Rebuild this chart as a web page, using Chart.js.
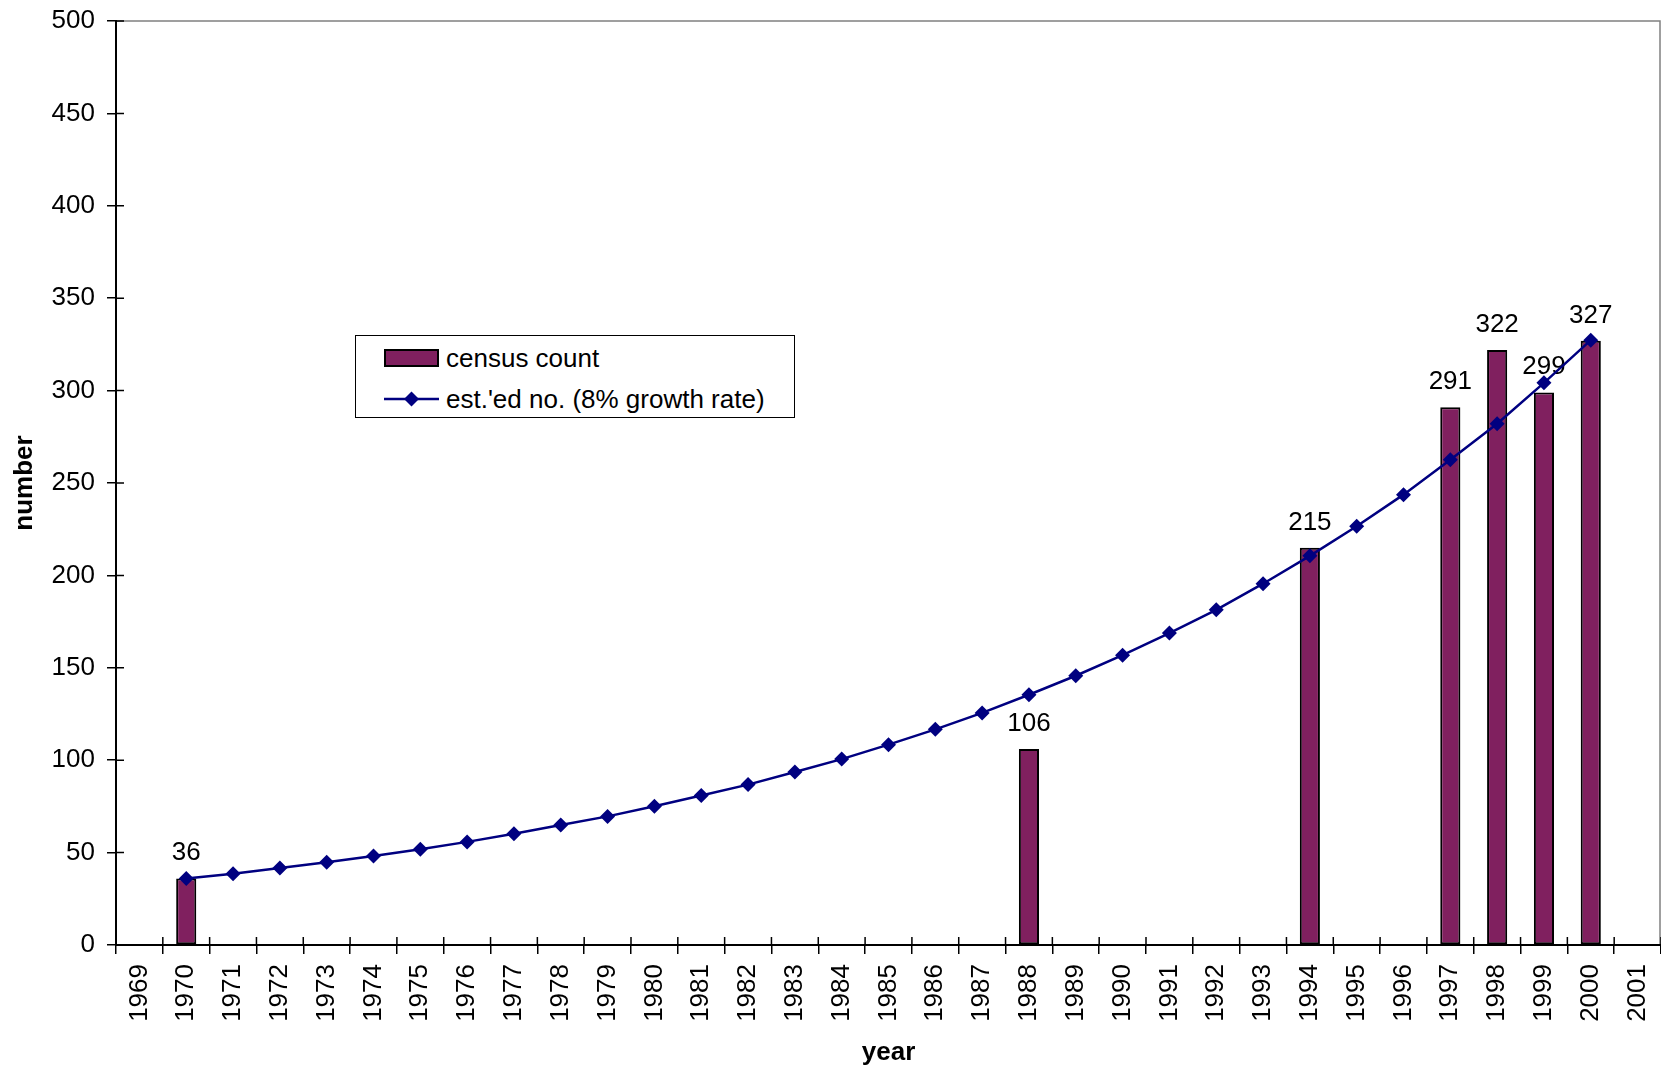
<!DOCTYPE html>
<html>
<head>
<meta charset="utf-8">
<title>census count vs estimated number</title>
<script src="https://cdn.jsdelivr.net/npm/chart.js@4.4.1/dist/chart.umd.min.js"></script>
<style>
    body { margin: 0; background: #fff; overflow: hidden; }
    #wrap { position: relative; width: 1661px; height: 1069px; }
    #legend {
        position: absolute; left: 355px; top: 335px; width: 440px; height: 83px;
        box-sizing: border-box; border: 1px solid #000; background: #fff;
        font-family: 'Liberation Sans', Arial, sans-serif; font-size: 26px; color: #000;
    }
    .legend-row { position: absolute; left: 28px; height: 30px; display: flex; align-items: center; }
    .legend-row span { margin-left: 7px; white-space: nowrap; }
    .swatch { width: 51px; height: 14px; border: 2px solid #000; }
</style>
</head>
<body>
<div id="wrap">
    <canvas id="censusChart" width="1661" height="1069"></canvas>
    <div id="legend"></div>
</div>
<script>
const years = ['1969', '1970', '1971', '1972', '1973', '1974', '1975', '1976', '1977', '1978', '1979',
    '1980', '1981', '1982', '1983', '1984', '1985', '1986', '1987', '1988', '1989', '1990', '1991',
    '1992', '1993', '1994', '1995', '1996', '1997', '1998', '1999', '2000', '2001'];

const censusYears = ['1970', '1988', '1994', '1997', '1998', '1999', '2000'];
const censusValues = [36, 106, 215, 291, 322, 299, 327];

const estYears = ['1970', '1971', '1972', '1973', '1974', '1975', '1976', '1977', '1978', '1979',
    '1980', '1981', '1982', '1983', '1984', '1985', '1986', '1987', '1988', '1989', '1990', '1991',
    '1992', '1993', '1994', '1995', '1996', '1997', '1998', '1999', '2000'];
const estValues = [36, 38.5, 41.7, 44.8, 48.2, 51.8, 55.8, 60.2, 64.9, 69.6, 75.1, 80.9, 86.8, 93.6,
    100.6, 108.4, 116.7, 125.6, 135.4, 145.7, 156.8, 168.8, 181.4, 195.5, 210.6, 226.6, 243.7,
    262.6, 282.1, 304.2, 327.3];

const yTicks = { min: 0, max: 500, step: 50 };

const BAR_COLOR = '#80205f';
const LINE_COLOR = '#000080';
const FONT = "'Liberation Sans', Arial, sans-serif";

Chart.defaults.font.family = FONT;
Chart.defaults.font.size = 26;
Chart.defaults.color = '#000';

// numbers above the census bars
const barLabels = {
    id: 'barLabels',
    afterDatasetDraw(chart, args) {
        if (chart.data.datasets[args.index].type !== 'bar') return;
        const ctx = chart.ctx;
        ctx.save();
        ctx.font = '26px ' + FONT;
        ctx.fillStyle = '#000';
        ctx.textAlign = 'center';
        ctx.textBaseline = 'alphabetic';
        args.meta.data.forEach((bar, i) => {
            ctx.fillText(String(censusValues[i]), bar.x, bar.y - 18);
        });
        ctx.restore();
    }
};

// grey plot frame + the inner half of the tick marks (Excel style cross ticks)
const plotFrame = {
    id: 'plotFrame',
    beforeDraw(chart) {
        const { ctx, chartArea } = chart;
        ctx.save();
        ctx.strokeStyle = '#808080';
        ctx.lineWidth = 1.5;
        ctx.strokeRect(chartArea.left, chartArea.top, chartArea.right - chartArea.left - 1, chartArea.bottom - chartArea.top);
        ctx.restore();
    },
    afterDraw(chart) {
        const { ctx, chartArea, scales } = chart;
        ctx.save();
        ctx.strokeStyle = '#000';
        ctx.lineWidth = 1.5;
        ctx.beginPath();
        scales.y.ticks.forEach((t, i) => {
            const y = scales.y.getPixelForTick(i);
            ctx.moveTo(chartArea.left, y);
            ctx.lineTo(chartArea.left + 8, y);
        });
        const half = (scales.x.getPixelForTick(1) - scales.x.getPixelForTick(0)) / 2;
        for (let i = 0; i <= years.length; i++) {
            const x = scales.x.getPixelForTick(Math.min(i, years.length - 1)) + (i < years.length ? -half : half);
            ctx.moveTo(x, chartArea.bottom);
            ctx.lineTo(x, chartArea.bottom - 8);
        }
        ctx.stroke();
        ctx.restore();
    }
};

function buildLegend(chart) {
    const legend = document.getElementById('legend');
    legend.innerHTML = '';
    const tops = [7, 48];
    const items = chart.data.datasets.slice().sort((a, b) => b.order - a.order);
    items.forEach((ds, i) => {
        const row = document.createElement('div');
        row.className = 'legend-row';
        row.style.top = tops[i] + 'px';
        let marker;
        if (ds.type === 'bar') {
            marker = '<div class="swatch" style="background:' + ds.backgroundColor + '"></div>';
        } else {
            marker = '<svg width="55" height="30"><line x1="0" y1="15" x2="55" y2="15" stroke="' + ds.borderColor +
                '" stroke-width="2.5"/><polygon points="27.5,7.5 35,15 27.5,22.5 20,15" fill="' + ds.pointBackgroundColor + '"/></svg>';
        }
        row.innerHTML = marker + '<span>' + ds.label + '</span>';
        legend.appendChild(row);
    });
}

const ctx = document.getElementById('censusChart');

const chart = new Chart(ctx, {
    type: 'bar',
    data: {
        labels: years,
        datasets: [
            {
                type: 'line',
                label: "est.'ed no. (8% growth rate)",
                data: estYears.map((y, i) => ({ x: y, y: estValues[i] })),
                borderColor: LINE_COLOR,
                borderWidth: 2.5,
                pointStyle: 'rectRot',
                pointRadius: 7.5,
                pointBackgroundColor: LINE_COLOR,
                pointBorderWidth: 0,
                tension: 0,
                order: 1
            },
            {
                type: 'bar',
                label: 'census count',
                data: censusYears.map((y, i) => ({ x: y, y: censusValues[i] })),
                backgroundColor: BAR_COLOR,
                borderColor: '#000',
                borderWidth: 2,
                borderSkipped: false,
                barPercentage: 0.43,
                categoryPercentage: 1,
                order: 2
            }
        ]
    },
    options: {
        responsive: false,
        animation: false,
        layout: {
            autoPadding: false,
            padding: { top: 21, right: 0, bottom: 0, left: 0 }
        },
        plugins: {
            legend: { display: false },
            tooltip: { enabled: false }
        },
        scales: {
            x: {
                afterFit: (scale) => {
                    scale.height = 124;
                    scale.paddingLeft = 0;
                    scale.paddingRight = 0;
                },
                border: { color: '#000', width: 2 },
                grid: { display: true, drawOnChartArea: false, tickLength: 9, color: '#000', lineWidth: 1.5 },
                ticks: { minRotation: 90, maxRotation: 90, padding: 10, autoSkip: false },
                title: {
                    display: true,
                    text: 'year',
                    font: { size: 26, weight: 'bold' },
                    padding: { top: 0, bottom: 1 }
                }
            },
            y: {
                min: yTicks.min,
                max: yTicks.max,
                afterFit: (scale) => {
                    scale.width = 116;
                    scale.paddingTop = 0;
                    scale.paddingBottom = 0;
                },
                border: { color: '#000', width: 2 },
                grid: { display: true, drawOnChartArea: false, tickLength: 9, color: '#000', lineWidth: 1.5 },
                ticks: { stepSize: yTicks.step, padding: 12 },
                title: {
                    display: true,
                    text: 'number',
                    font: { size: 26, weight: 'bold' },
                    padding: { top: 9, bottom: 0 }
                }
            }
        }
    },
    plugins: [barLabels, plotFrame]
});

buildLegend(chart);
</script>
</body>
</html>
